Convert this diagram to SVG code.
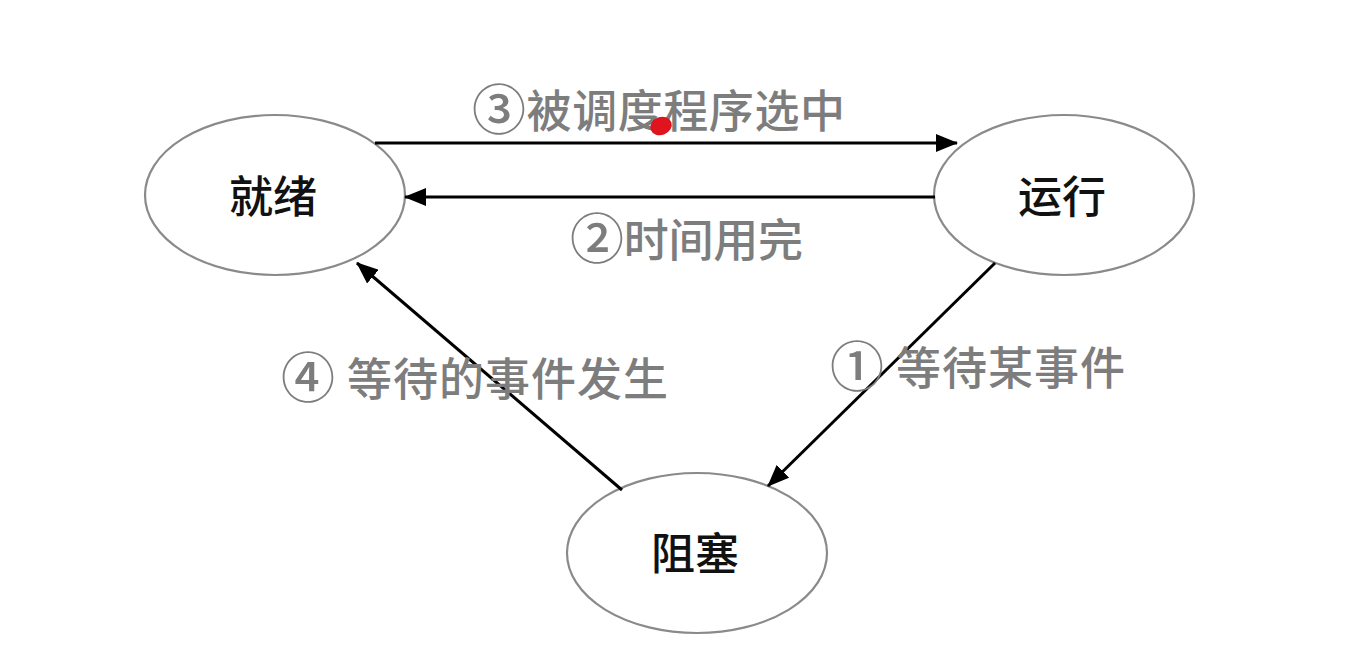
<svg xmlns="http://www.w3.org/2000/svg" width="1364" height="672" viewBox="0 0 1364 672">
<style>
.node ellipse{fill:#fff;stroke:#8a8a8a;stroke-width:2.2}
.node text{font-family:"Noto Sans CJK SC","Noto Sans",sans-serif;font-size:44px;font-weight:500;fill:#111;text-anchor:middle}
.edge line{stroke:#000;stroke-width:3;marker-end:url(#arr)}
.lbl{font-family:"Noto Sans CJK SC","Noto Sans",sans-serif;font-size:45px;font-weight:500;fill:#7d7d7d}
.num{font-size:54px;font-weight:500}
</style>
<defs>
<marker id="arr" markerUnits="userSpaceOnUse" markerWidth="22" markerHeight="18" refX="21" refY="9" orient="auto">
<path d="M0,0 L22,9 L0,18 z" fill="#000"/>
</marker>
</defs>
<rect width="1364" height="672" fill="#fff"/>
<g id="ready" class="node"><ellipse cx="275" cy="195" rx="130" ry="80"/><text x="273" y="213">就绪</text></g>
<g id="running" class="node"><ellipse cx="1064" cy="195" rx="130" ry="80"/><text x="1062" y="213">运行</text></g>
<g id="blocked" class="node"><ellipse cx="697" cy="553" rx="130" ry="80"/><text x="695" y="570">阻塞</text></g>
<g id="connectors" class="edge">
<line x1="375" y1="143" x2="957" y2="143"/>
<line x1="935" y1="197" x2="405" y2="197"/>
<line x1="995" y1="263" x2="768" y2="486"/>
<line x1="622" y1="490" x2="357" y2="263"/>
</g>
<g id="labels">
<text class="lbl" x="472" y="128" textLength="373"><tspan class="num" dy="2">③</tspan><tspan dy="-2">被调度程序选中</tspan></text>
<text class="lbl" x="570" y="257" textLength="233"><tspan class="num" dy="2">②</tspan><tspan dy="-2">时间用完</tspan></text>
<text class="lbl" x="281" y="396" textLength="387"><tspan class="num" dy="2">④</tspan><tspan dy="-2"> 等待的事件发生</tspan></text>
<text class="lbl" x="830" y="385" textLength="295"><tspan class="num" dy="2">①</tspan><tspan dy="-2"> 等待某事件</tspan></text>
</g>
<ellipse cx="661" cy="126" rx="11" ry="9" fill="#e0141e" transform="rotate(-20 661 126)"/>
</svg>
